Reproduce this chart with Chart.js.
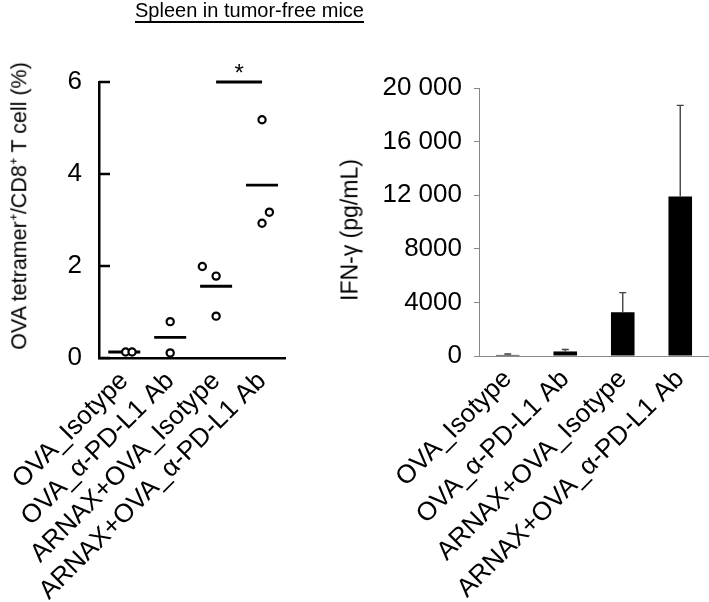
<!DOCTYPE html>
<html><head><meta charset="utf-8">
<script src="https://cdn.jsdelivr.net/npm/chart.js@4.4.0/dist/chart.umd.min.js"></script>
<style>
html,body{margin:0;padding:0;background:#fff;width:709px;height:602px;overflow:hidden;position:relative;font-family:'Liberation Sans',Arial,sans-serif}
#title{position:absolute;left:135px;top:0px;font-size:20px;line-height:21px;text-decoration:underline;text-underline-offset:4px;text-decoration-thickness:1.5px;white-space:nowrap;color:#000}
.ytitle{position:absolute;white-space:nowrap;color:#000;line-height:1;transform:translate(-50%,-50%) rotate(-90deg)}
#yt1{left:20px;top:206px;font-size:21.5px}
#yt2{left:350px;top:230px;font-size:23px}
#c1{position:absolute;left:0;top:0}
#c2{position:absolute;left:330px;top:0}
</style></head><body>
<canvas id="c1" width="330" height="602"></canvas>
<canvas id="c2" width="379" height="602"></canvas>
<div id="title">Spleen in tumor-free mice</div>
<div class="ytitle" id="yt1">OVA tetramer⁺/CD8⁺ T cell (%)</div>
<div class="ytitle" id="yt2">IFN-γ (pg/mL)</div>
<script>
// ---- data ----
const categories = ['OVA_Isotype', 'OVA_\u03B1-PD-L1 Ab', 'ARNAX+OVA_Isotype', 'ARNAX+OVA_\u03B1-PD-L1 Ab'];
// left panel: OVA tetramer+ / CD8+ T cell (%) individual mice
const tetramerValues = [[0.13, 0.13], [0.79, 0.11], [1.99, 1.78, 0.91], [5.18, 3.17, 2.93]];
const tetramerJitter = [[0.03, 0.17], [0, 0], [-0.3, 0, 0], [0, 0.16, 0]];
const tetramerMeans = [0.13, 0.45, 1.56, 3.76];
const tetramerTicks = [0, 2, 4, 6];
const sigFrom = 2, sigTo = 3, sigLevel = 6, sigLabel = '*';
// right panel: IFN-gamma (pg/mL)
const ifngMeans = [80, 340, 3260, 11900];
const ifngSD = [70, 140, 1470, 6800];
const ifngTicks = [0, 4000, 8000, 12000, 16000, 20000];
const ifngTickLabels = ['0', '4000', '8000', '12 000', '16 000', '20 000'];

const FONT = "'Liberation Sans', Arial, sans-serif";
Chart.defaults.font.family = FONT;
Chart.defaults.color = '#000';

// ---- left chart ----
const pointData = [];
tetramerValues.forEach((vals, i) => vals.forEach((v, j) => pointData.push({x: i + tetramerJitter[i][j], y: v})));
const meanData = tetramerMeans.map((m, i) => ({x: i, y: m}));

const inwardTicks = {
  id: 'inwardTicks',
  afterDraw(chart) {
    const y = chart.scales.y, ctx = chart.ctx, left = chart.chartArea.left;
    ctx.save(); ctx.strokeStyle = '#000'; ctx.lineWidth = 2.5;
    y.ticks.forEach(t => {
      const py = y.getPixelForValue(t.value);
      ctx.beginPath(); ctx.moveTo(left, py); ctx.lineTo(left + 11, py); ctx.stroke();
    });
    ctx.restore();
  }
};
const sigText = {
  id: 'sigText',
  afterDatasetsDraw(chart) {
    const x = chart.scales.x, y = chart.scales.y, ctx = chart.ctx;
    ctx.save(); ctx.fillStyle = '#000'; ctx.font = '24px ' + FONT;
    ctx.textAlign = 'center'; ctx.textBaseline = 'alphabetic';
    ctx.fillText(sigLabel, x.getPixelForValue((sigFrom + sigTo) / 2), y.getPixelForValue(sigLevel) - 1);
    ctx.restore();
  }
};

new Chart(document.getElementById('c1'), {
  type: 'scatter',
  data: {
    datasets: [
      {data: pointData, order: 0, pointStyle: 'circle', pointRadius: 3.6, pointBorderWidth: 2.2,
       pointBackgroundColor: '#fff', pointBorderColor: '#000', clip: false},
      {data: meanData, order: 1, pointStyle: 'line', pointRadius: 16, pointBorderWidth: 2.8,
       pointBorderColor: '#000', pointBackgroundColor: '#000', clip: false},
      {type: 'line', data: [{x: sigFrom, y: sigLevel}, {x: sigTo, y: sigLevel}], order: 2,
       borderColor: '#000', borderWidth: 2.8, pointRadius: 0, clip: false}
    ]
  },
  options: {
    responsive: false, animation: false,
    layout: {padding: {top: 82, right: 45, bottom: 0, left: 0}},
    plugins: {legend: {display: false}, tooltip: {enabled: false}},
    scales: {
      x: {
        type: 'linear', min: -0.55, max: 3.5,
        afterBuildTicks: s => { s.ticks = categories.map((c, i) => ({value: i})); },
        afterFit: s => { s.height = 244; },
        grid: {display: false},
        border: {display: true, color: '#000', width: 2.5},
        ticks: {autoSkip: false, minRotation: 45, maxRotation: 45, padding: 0,
                font: {size: 26}, color: '#000', callback: v => categories[v]}
      },
      y: {
        min: 0, max: 6,
        afterBuildTicks: s => { s.ticks = tetramerTicks.map(v => ({value: v})); },
        afterFit: s => { s.width = 99; },
        grid: {display: false, drawTicks: false},
        border: {display: true, color: '#000', width: 2.5},
        ticks: {padding: 17, font: {size: 26}, color: '#000'}
      }
    }
  },
  plugins: [inwardTicks, sigText]
});

// ---- right chart ----
const errorBars = {
  id: 'errorBars',
  afterDatasetsDraw(chart) {
    const meta = chart.getDatasetMeta(0), y = chart.scales.y, ctx = chart.ctx;
    ctx.save(); ctx.strokeStyle = '#444'; ctx.lineWidth = 1.4;
    meta.data.forEach((bar, i) => {
      const base = y.getPixelForValue(ifngMeans[i]);
      const top = y.getPixelForValue(ifngMeans[i] + ifngSD[i]);
      ctx.beginPath(); ctx.moveTo(bar.x, base); ctx.lineTo(bar.x, top);
      ctx.moveTo(bar.x - 3.5, top); ctx.lineTo(bar.x + 3.5, top); ctx.stroke();
    });
    ctx.restore();
  }
};

new Chart(document.getElementById('c2'), {
  type: 'bar',
  data: {
    labels: categories,
    datasets: [{data: ifngMeans, backgroundColor: '#000', borderWidth: 0,
                categoryPercentage: 1, barPercentage: 0.41}]
  },
  options: {
    responsive: false, animation: false,
    layout: {padding: {top: 88, right: 0, bottom: 0, left: 0}},
    plugins: {legend: {display: false}, tooltip: {enabled: false}},
    scales: {
      x: {
        afterFit: s => { s.height = 246; },
        grid: {display: false},
        border: {display: true, color: '#888', width: 1},
        ticks: {autoSkip: false, minRotation: 45, maxRotation: 45, padding: 0,
                font: {size: 26}, color: '#000'}
      },
      y: {
        min: 0, max: 20000,
        afterBuildTicks: s => { s.ticks = ifngTicks.map(v => ({value: v})); },
        afterFit: s => { s.width = 149; },
        grid: {display: true, drawOnChartArea: false, drawTicks: true, tickLength: 5, color: '#888', lineWidth: 1},
        border: {display: true, color: '#888', width: 1},
        ticks: {padding: 12, font: {size: 26}, color: '#000',
                callback: v => ifngTickLabels[ifngTicks.indexOf(v)]}
      }
    }
  },
  plugins: [errorBars]
});
</script>
</body></html>
